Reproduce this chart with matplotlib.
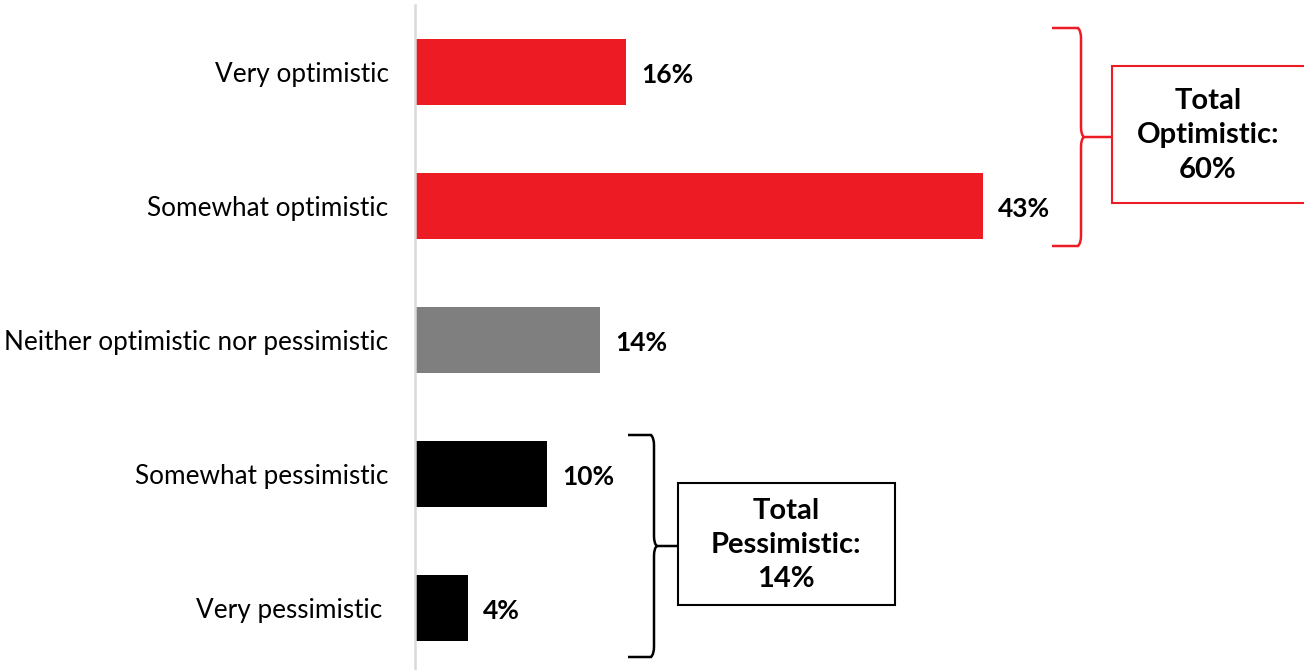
import matplotlib
matplotlib.use("Agg")
import matplotlib.pyplot as plt
from matplotlib.path import Path
from matplotlib.patches import PathPatch, Rectangle

plt.rcParams['font.family'] = ['Lato', 'DejaVu Sans']

categories = ["Very optimistic", "Somewhat optimistic", "Neither optimistic nor pessimistic",
              "Somewhat pessimistic", "Very pessimistic "]
values = [16, 43, 14, 10, 4]
value_labels = ["16%", "43%", "14%", "10%", "4%"]
colors = ["#ED1C24", "#ED1C24", "#7F7F7F", "#000000", "#000000"]
group_texts = ["Total\nOptimistic:\n60%", "Total\nPessimistic:\n14%"]

W, H = 1304, 670
fig = plt.figure(figsize=(W / 100, H / 100), dpi=100)
ax_left, ax_right = 415, 415 + 60 * 13.2
ax = fig.add_axes([ax_left / W, -5 / H, (ax_right - ax_left) / W, 1.0])

ypos = list(range(len(categories)))
ax.barh(ypos, values, height=0.49, color=colors)
ax.set_ylim(4.5, -0.5)
ax.set_xlim(0, 60)
ax.set_yticks(ypos)
ax.set_yticklabels(categories, fontsize=18.8, color="#000000")
ax.tick_params(axis='y', length=0, pad=19)
for t in ax.get_yticklabels():
    t.set_y(t.get_position()[1])
ax.set_xticks([])
for s in ["top", "right", "bottom"]:
    ax.spines[s].set_visible(False)
ax.spines["left"].set_color("#D9D9D9")
ax.spines["left"].set_linewidth(1.8)

for y, v, lab in zip(ypos, values, value_labels):
    ax.text(v + 1.15, y + 0.02, lab, va="center", ha="left", fontsize=19, fontweight="bold")


def P(px, py):
    return (px / W, 1 - py / H)


def brace(x0, xv, xt, ytop, ymid, ybot, color):
    r = 10
    verts = [
        P(x0, ytop), P(xv - 3, ytop), P(xv, ytop + 3), P(xv, ytop + r),
        P(xv, ymid - r), P(xv, ymid - 2), P(xv + 3, ymid), P(xt, ymid),
        P(xv + 3, ymid), P(xv, ymid + 2), P(xv, ymid + r),
        P(xv, ybot - r), P(xv, ybot - 3), P(xv - 3, ybot), P(x0, ybot),
    ]
    codes = [Path.MOVETO, Path.LINETO, Path.CURVE3, Path.CURVE3,
             Path.LINETO, Path.CURVE3, Path.CURVE3, Path.LINETO,
             Path.MOVETO, Path.CURVE3, Path.CURVE3,
             Path.LINETO, Path.CURVE3, Path.CURVE3, Path.LINETO]
    patch = PathPatch(Path(verts, codes), facecolor="none", edgecolor=color,
                      linewidth=1.8, transform=fig.transFigure, clip_on=False)
    fig.add_artist(patch)


def box(x0, x1, y0, y1, color, text, cx):
    rect = Rectangle(P(x0, y1), (x1 - x0) / W, (y1 - y0) / H, facecolor="white",
                     edgecolor=color, linewidth=1.5, transform=fig.transFigure, clip_on=False)
    fig.add_artist(rect)
    fig.text(cx / W, 1 - ((y0 + y1) / 2 + 1) / H, text, ha="center", va="center",
             fontsize=21, fontweight="bold", linespacing=1.39)


brace(1052, 1081, 1111, 28, 137, 246, "#ED1C24")
box(1112, 1310, 66, 203, "#ED1C24", group_texts[0], 1208)
brace(628, 654, 678, 435, 546, 657, "#000000")
box(678, 895, 483, 605, "#000000", group_texts[1], 786)

fig.savefig("out.png", dpi=100)
